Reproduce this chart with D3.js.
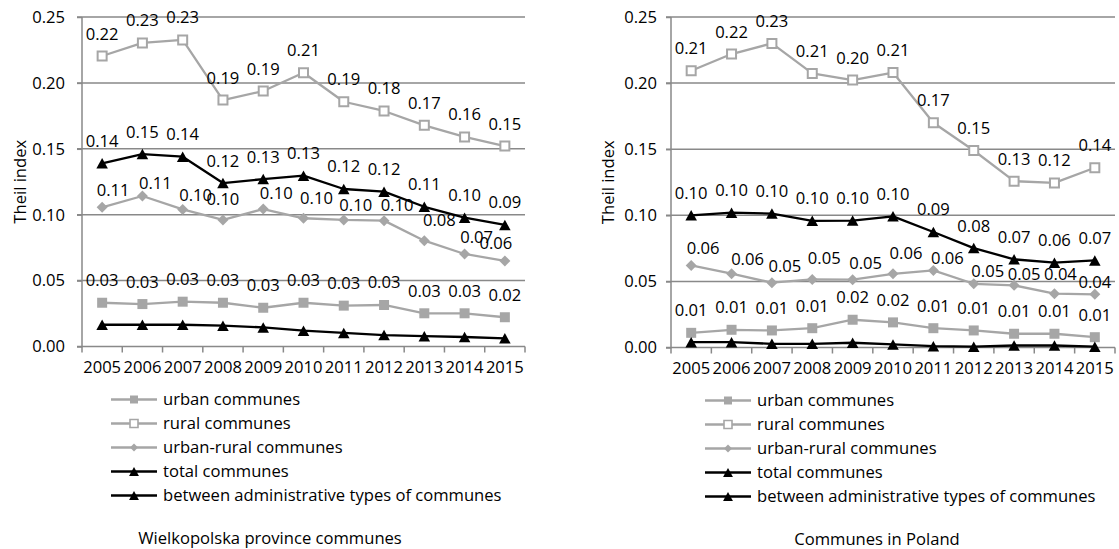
<!DOCTYPE html>
<html>
<head>
<meta charset="utf-8">
<script src="https://cdn.jsdelivr.net/npm/d3@7"></script>
<style>
  html, body { margin: 0; padding: 0; background: #fff; }
  svg { display: block; font-family: "Open Sans", "Noto Sans", sans-serif; }
</style>
</head>
<body>
<svg id="chart" width="1119" height="549"></svg>
<script>
// ---------------- DATA ----------------
const years = ["2005","2006","2007","2008","2009","2010","2011","2012","2013","2014","2015"];
const yTicks = [0, 0.05, 0.10, 0.15, 0.20, 0.25];
const seriesNames = ["urban communes", "rural communes", "urban-rural communes", "total communes", "between administrative types of communes"];
const chartTitles = ["Wielkopolska province communes", "Communes in Poland"];
const yAxisTitle = "Theil index";

// Wielkopolska province communes
const wpUrban      = [0.0332, 0.0322, 0.0340, 0.0332, 0.0294, 0.0332, 0.0310, 0.0315, 0.0252, 0.0252, 0.0222];
const wpRural      = [0.2204, 0.2303, 0.2326, 0.1870, 0.1938, 0.2077, 0.1857, 0.1787, 0.1678, 0.1590, 0.1521];
const wpUrbanRural = [0.1056, 0.1142, 0.1040, 0.0960, 0.1043, 0.0973, 0.0960, 0.0955, 0.0803, 0.0702, 0.0649];
const wpTotal      = [0.1390, 0.1460, 0.1440, 0.1240, 0.1270, 0.1296, 0.1195, 0.1175, 0.1060, 0.0977, 0.0922];
const wpBetween    = [0.0165, 0.0165, 0.0165, 0.0158, 0.0145, 0.0120, 0.0103, 0.0087, 0.0078, 0.0072, 0.0062];

// Communes in Poland
const plUrban      = [0.0111, 0.0134, 0.0129, 0.0146, 0.0210, 0.0190, 0.0146, 0.0129, 0.0104, 0.0104, 0.0078];
const plRural      = [0.2093, 0.2220, 0.2300, 0.2073, 0.2023, 0.2080, 0.1700, 0.1490, 0.1258, 0.1245, 0.1360];
const plUrbanRural = [0.0621, 0.0558, 0.0490, 0.0515, 0.0513, 0.0557, 0.0583, 0.0482, 0.0470, 0.0407, 0.0402];
const plTotal      = [0.1000, 0.1020, 0.1013, 0.0958, 0.0960, 0.0992, 0.0874, 0.0752, 0.0667, 0.0642, 0.0659];
const plBetween    = [0.0040, 0.0040, 0.0028, 0.0028, 0.0036, 0.0023, 0.0010, 0.0006, 0.0015, 0.0015, 0.0006];

// ---------------- LAYOUT (label nudges for the crowded urban-rural labels) ----------------
const wpUrbanRuralNudge = [[11,5],[13,10],[13,8],[0,2],[13,6],[13,2],[12,8],[13,7],[15,2],[12,6],[-9,5]];
const plUrbanRuralNudge = [[12,5],[16,8],[13,6],[12,1],[13,6],[13,2],[14,10],[14,10],[10,11],[6,3],[0,10]];

const GREY = "#a6a6a6";
const GRID = "#898989";
const FONT = 16.6;

const svg = d3.select("#chart");

const styles = [
  { color: GREY, marker: "square", fill: GREY },
  { color: GREY, marker: "square", fill: "#fff", open: true },
  { color: GREY, marker: "diamond", fill: GREY },
  { color: "#000", marker: "triangle", fill: "#000" },
  { color: "#000", marker: "triangle", fill: "#000" }
];

function markerPath(type, s) {
  const h = s / 2;
  if (type === "square") return `M${-h},${-h}H${h}V${h}H${-h}Z`;
  if (type === "diamond") return `M0,${-h}L${h},0L0,${h}L${-h},0Z`;
  return `M0,${-h}L${h*1.1},${h}L${-h*1.1},${h}Z`;
}
function markerSize(type, legend) {
  if (legend) return type === "triangle" ? 9 : 8;
  if (type === "square") return 10;
  if (type === "diamond") return 11;
  return 10.5;
}

const charts = [
  { x0: 82, x1: 525, yTop: 17, yBot: 346.5, tickLabelX: 65, axisTitleX: 19,
    series: [wpUrban, wpRural, wpUrbanRural, wpTotal, wpBetween], nudge: wpUrbanRuralNudge,
    legendLine: [111, 157], legendText: 163, legendY: 399.5, title: chartTitles[0], titleX: 270, titleY: 544 },
  { x0: 671, x1: 1115, yTop: 17, yBot: 347.5, tickLabelX: 657, axisTitleX: 607,
    series: [plUrban, plRural, plUrbanRural, plTotal, plBetween], nudge: plUrbanRuralNudge,
    legendLine: [705, 751], legendText: 757, legendY: 400.5, title: chartTitles[1], titleX: 877, titleY: 545 }
];

const fmt = d3.format(".2f");

charts.forEach(c => {
  const g = svg.append("g");
  const x = d3.scalePoint().domain(years).range([c.x0, c.x1]).padding(0.5);
  const xb = d3.scaleBand().domain(years).range([c.x0, c.x1]);
  const y = d3.scaleLinear().domain([0, 0.25]).range([c.yBot, c.yTop]);

  // gridlines
  g.append("g").selectAll("line").data(yTicks.filter(t => t > 0)).join("line")
    .attr("x1", c.x0 - 5).attr("x2", c.x1)
    .attr("y1", d => y(d)).attr("y2", d => y(d))
    .attr("stroke", GRID).attr("stroke-width", 1.5);
  // y axis
  const yAxis = d3.axisLeft(y).tickValues(yTicks).tickFormat(fmt).tickSize(5).tickPadding(12);
  const ya = g.append("g").attr("transform", `translate(${c.x0},0)`).call(yAxis);
  ya.select(".domain").attr("stroke", GRID).attr("stroke-width", 1.5).attr("d", `M-5,${c.yBot}H0V${c.yTop}`);
  ya.selectAll(".tick line").attr("stroke", GRID).attr("stroke-width", 1.5);
  ya.selectAll(".tick text").attr("font-size", FONT).attr("fill", "#000")
    .attr("font-family", '"Open Sans", sans-serif').attr("x", c.tickLabelX - c.x0);

  // x axis
  const xa = g.append("g").attr("transform", `translate(0,${c.yBot})`);
  xa.append("line").attr("x1", c.x0).attr("x2", c.x1).attr("y1", 0).attr("y2", 0)
    .attr("stroke", GRID).attr("stroke-width", 1.5);
  const bounds = years.map(d => xb(d)).concat([c.x1]);
  xa.selectAll("line.tk").data(bounds).join("line").attr("class", "tk")
    .attr("x1", d => d).attr("x2", d => d).attr("y1", 0).attr("y2", 6)
    .attr("stroke", GRID).attr("stroke-width", 1.5);
  xa.selectAll("text").data(years).join("text")
    .attr("x", d => x(d)).attr("y", 26).attr("text-anchor", "middle")
    .attr("font-size", FONT).text(d => d);

  // series
  const line = d3.line().x((d, i) => x(years[i])).y(d => y(d));
  c.series.forEach((vals, si) => {
    const st = styles[si];
    const sg = g.append("g");
    sg.append("path").attr("d", line(vals)).attr("fill", "none")
      .attr("stroke", st.color).attr("stroke-width", 2.3).attr("stroke-linejoin", "round");
    const s = markerSize(st.marker, false);
    sg.selectAll("path.m").data(vals).join("path").attr("class", "m")
      .attr("transform", (d, i) => `translate(${x(years[i])},${y(d)})`)
      .attr("d", markerPath(st.marker, st.open ? s - 1 : s))
      .attr("fill", st.fill)
      .attr("stroke", st.open ? st.color : "none")
      .attr("stroke-width", st.open ? 2 : 0);
  });

  // data labels (all series except "between")
  c.series.slice(0, 4).forEach((vals, si) => {
    g.append("g").selectAll("text").data(vals).join("text")
      .attr("x", (d, i) => x(years[i]) + (si === 2 ? c.nudge[i][0] : 0))
      .attr("y", (d, i) => y(d) - 16.5 + (si === 2 ? c.nudge[i][1] : 0))
      .attr("text-anchor", "middle").attr("font-size", FONT).attr("fill", "#000")
      .text(d => fmt(d));
  });

  // y axis title
  const cy = (c.yTop + c.yBot) / 2;
  g.append("text").attr("transform", `translate(${c.axisTitleX},${cy}) rotate(-90)`)
    .attr("text-anchor", "middle").attr("dominant-baseline", "central")
    .attr("font-size", FONT).text(yAxisTitle);

  // legend
  const lg = g.append("g");
  seriesNames.forEach((name, si) => {
    const st = styles[si];
    const ly = c.legendY + si * 24;
    const mx = (c.legendLine[0] + c.legendLine[1]) / 2;
    lg.append("line").attr("x1", c.legendLine[0]).attr("x2", c.legendLine[1])
      .attr("y1", ly).attr("y2", ly).attr("stroke", st.color).attr("stroke-width", 2.3);
    const s = markerSize(st.marker, true);
    lg.append("path").attr("transform", `translate(${mx},${ly})`)
      .attr("d", markerPath(st.marker, s)).attr("fill", st.fill)
      .attr("stroke", st.open ? st.color : "none").attr("stroke-width", st.open ? 1.6 : 0);
    lg.append("text").attr("x", c.legendText).attr("y", ly).attr("dy", "0.36em")
      .attr("font-size", FONT).text(name);
  });

  // chart title
  g.append("text").attr("x", c.titleX).attr("y", c.titleY).attr("text-anchor", "middle")
    .attr("font-size", FONT).text(c.title);
});
</script>
</body>
</html>
